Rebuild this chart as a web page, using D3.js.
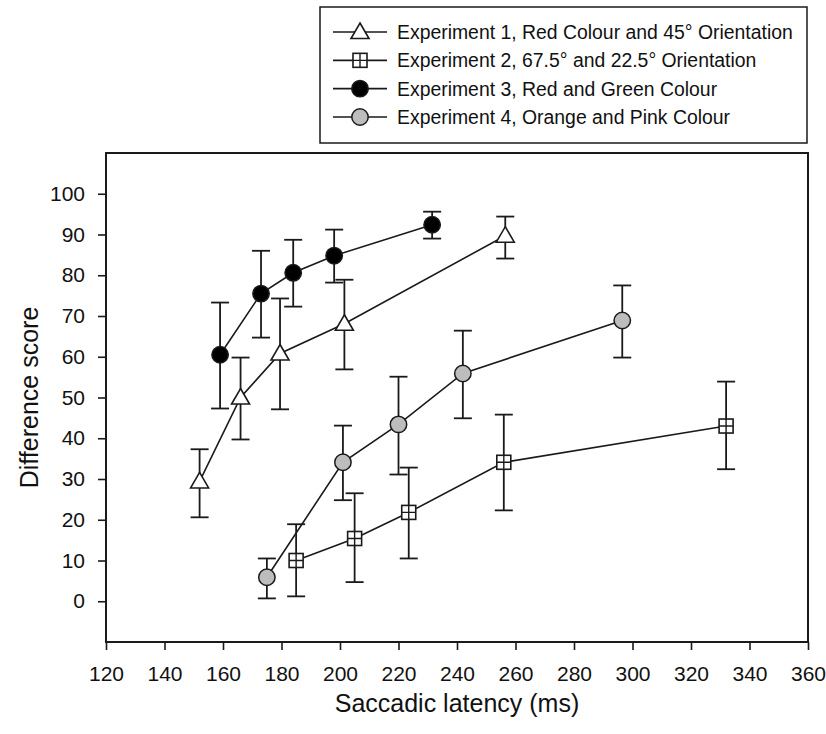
<!DOCTYPE html>
<html>
<head>
<meta charset="utf-8">
<script src="https://cdn.jsdelivr.net/npm/d3@7"></script>
<style>
  body { margin: 0; background: #fff; }
  text { font-family: "Liberation Sans", Arial, sans-serif; fill: #111; }
</style>
</head>
<body>
<div id="chart"></div>
<script>
// values
const seriesNames = [
	"Experiment 1, Red Colour and 45\u00b0 Orientation",
	"Experiment 2, 67.5\u00b0 and 22.5\u00b0 Orientation",
	"Experiment 3, Red and Green Colour",
	"Experiment 4, Orange and Pink Colour"
];
const seriesSymbols = ["triangle", "square", "circle", "circle"];
const seriesFills = ["#ffffff", "#ffffff", "#000000", "#bdbdbd"];

const exp1Latency = [152, 166, 179.5, 201.5, 256.5];
const exp1Score   = [29.4, 50.0, 60.8, 68.1, 89.7];
const exp1Upper   = [37.3, 59.8, 74.3, 78.9, 94.4];
const exp1Lower   = [20.6, 39.7, 47.1, 56.9, 84.1];

const exp2Latency = [185, 205, 223.5, 256, 332];
const exp2Score   = [10.0, 15.4, 21.8, 34.1, 43.0];
const exp2Upper   = [18.9, 26.5, 32.8, 45.8, 53.9];
const exp2Lower   = [1.2, 4.7, 10.5, 22.3, 32.4];

const exp3Latency = [159, 173, 184, 198, 231.5];
const exp3Score   = [60.5, 75.5, 80.6, 84.8, 92.4];
const exp3Upper   = [73.3, 86.0, 88.7, 91.2, 95.6];
const exp3Lower   = [47.3, 64.7, 72.3, 78.2, 89.0];

const exp4Latency = [175, 201, 220, 242, 296.5];
const exp4Score   = [5.9, 34.1, 43.4, 55.9, 68.9];
const exp4Upper   = [10.5, 43.1, 55.1, 66.4, 77.5];
const exp4Lower   = [0.7, 24.8, 31.1, 44.9, 59.8];

const xTicks = d3.range(120, 361, 20);
const yTicks = d3.range(0, 101, 10);

const allLatency = [exp1Latency, exp2Latency, exp3Latency, exp4Latency];
const allScore = [exp1Score, exp2Score, exp3Score, exp4Score];
const allUpper = [exp1Upper, exp2Upper, exp3Upper, exp4Upper];
const allLower = [exp1Lower, exp2Lower, exp3Lower, exp4Lower];

const series = seriesNames.map((name, i) => ({
	name: name,
	symbol: seriesSymbols[i],
	fill: seriesFills[i],
	points: allLatency[i].map((x, j) => ({x: x, y: allScore[i][j], hi: allUpper[i][j], lo: allLower[i][j]}))
}));

const W = 826, H = 734;
const margin = {top: 153, right: 18, bottom: 92, left: 106};
const width = W - margin.left - margin.right;
const height = H - margin.top - margin.bottom;
const ink = "#1a1a1a";

const svg = d3.select("#chart").append("svg")
	.attr("width", W)
	.attr("height", H);

const g = svg.append("g")
	.attr("transform", "translate(" + margin.left + "," + margin.top + ")");

const x = d3.scaleLinear().domain([120, 360]).range([0, width]);
const y = d3.scaleLinear().domain([-10, 110]).range([height, 0]);

// axes
const yAxis = g.append("g")
	.call(d3.axisLeft(y).tickValues(yTicks).tickSize(8).tickPadding(13));
const xAxis = g.append("g")
	.attr("transform", "translate(0," + height + ")")
	.call(d3.axisBottom(x).tickValues(xTicks).tickSize(8).tickPadding(16));

[xAxis, yAxis].forEach(a => {
	a.select(".domain").remove();
	a.selectAll(".tick line").attr("stroke", ink).attr("stroke-width", 1.6);
	a.selectAll(".tick text")
		.style("font-family", "'Liberation Sans', Arial, sans-serif")
		.style("font-size", "21px")
		.attr("fill", "#111");
});

// frame
g.append("rect")
	.attr("width", width)
	.attr("height", height)
	.attr("fill", "none")
	.attr("stroke", ink)
	.attr("stroke-width", 2);

// symbols
function drawSymbol(sel, type, fill) {
	if (type === "circle") {
		sel.append("circle").attr("r", 8.2)
			.attr("fill", fill).attr("stroke", ink).attr("stroke-width", 1.5);
	} else if (type === "triangle") {
		sel.append("path").attr("d", "M0,-9L9,6.5L-9,6.5Z")
			.attr("fill", fill).attr("stroke", ink).attr("stroke-width", 1.6);
	} else {
		sel.append("rect").attr("x", -7).attr("y", -7).attr("width", 14).attr("height", 14)
			.attr("fill", fill).attr("stroke", ink).attr("stroke-width", 1.6);
		sel.append("path").attr("d", "M0,-7V7M-7,0H7")
			.attr("stroke", ink).attr("stroke-width", 1.4);
	}
}

const line = d3.line().x(d => x(d.x)).y(d => y(d.y));
const cap = 9;

series.forEach(s => {
	const sg = g.append("g");

	// error bars
	const eb = sg.selectAll(".err").data(s.points).enter().append("g")
		.attr("stroke", ink).attr("stroke-width", 1.8);
	eb.append("line")
		.attr("x1", d => x(d.x)).attr("x2", d => x(d.x))
		.attr("y1", d => y(d.hi)).attr("y2", d => y(d.lo));
	eb.append("line")
		.attr("x1", d => x(d.x) - cap).attr("x2", d => x(d.x) + cap)
		.attr("y1", d => y(d.hi)).attr("y2", d => y(d.hi));
	eb.append("line")
		.attr("x1", d => x(d.x) - cap).attr("x2", d => x(d.x) + cap)
		.attr("y1", d => y(d.lo)).attr("y2", d => y(d.lo));

	sg.append("path")
		.datum(s.points)
		.attr("d", line)
		.attr("fill", "none")
		.attr("stroke", ink)
		.attr("stroke-width", 1.6);
});

// markers on top
series.forEach(s => {
	g.append("g").selectAll(".pt").data(s.points).enter().append("g")
		.attr("transform", d => "translate(" + x(d.x) + "," + y(d.y) + ")")
		.each(function() { drawSymbol(d3.select(this), s.symbol, s.fill); });
});

// axis titles
svg.append("text")
	.attr("transform", "translate(38," + (margin.top + height / 2) + ") rotate(-90)")
	.attr("text-anchor", "middle")
	.style("font-size", "25px")
	.text("Difference score");

svg.append("text")
	.attr("x", margin.left + width / 2)
	.attr("y", 712)
	.attr("text-anchor", "middle")
	.style("font-size", "25px")
	.text("Saccadic latency (ms)");

// legend
const legend = svg.append("g");
legend.append("rect")
	.attr("x", 320).attr("y", 7)
	.attr("width", 487).attr("height", 136)
	.attr("fill", "#fff")
	.attr("stroke", ink)
	.attr("stroke-width", 1.5);

const rowY = d3.scalePoint().domain(seriesNames).range([32, 117]);

series.forEach(s => {
	const row = legend.append("g")
		.attr("transform", "translate(0," + rowY(s.name) + ")");
	row.append("line")
		.attr("x1", 333).attr("x2", 387)
		.attr("stroke", ink).attr("stroke-width", 1.6);
	const m = row.append("g").attr("transform", "translate(360,0)");
	drawSymbol(m, s.symbol, s.fill);
	row.append("text")
		.attr("x", 397).attr("y", 7)
		.style("font-size", "19.4px")
		.text(s.name);
});
</script>
</body>
</html>
